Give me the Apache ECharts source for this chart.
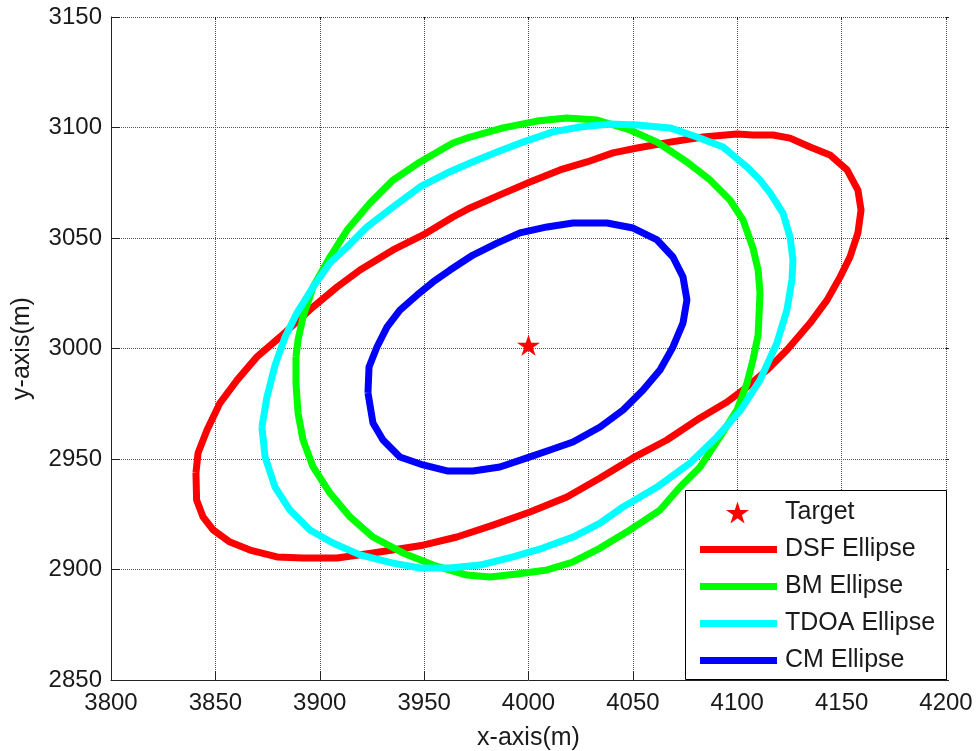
<!DOCTYPE html>
<html>
<head>
<meta charset="utf-8">
<script src="https://cdn.jsdelivr.net/npm/echarts@6/dist/echarts.min.js"></script>
<style>
  html, body { margin: 0; padding: 0; background: #fff; }
  #chart { width: 980px; height: 751px; }
</style>
</head>
<body>
<div id="chart"></div>
<script>
// Axis ticks (metres)
const xTicks = [3800, 3850, 3900, 3950, 4000, 4050, 4100, 4150, 4200];
const yTicks = [2850, 2900, 2950, 3000, 3050, 3100, 3150];

// True emitter position
const target = [[4000, 3001.5]];

// Error ellipses, traced as closed contours of [x, y] points
const dsfEllipse = [
  [3840.7, 2943.7], [3841.0, 2931.4], [3844.1, 2923.8], [3848.9, 2917.9], [3857.0, 2912.4],
  [3866.6, 2908.8], [3879.5, 2905.7], [3892.0, 2905.2], [3908.3, 2905.2], [3925.5, 2907.5],
  [3949.5, 2911.0], [3965.7, 2914.7], [3983.0, 2920.1], [4000.7, 2926.0], [4018.4, 2932.8],
  [4034.3, 2941.4], [4050.1, 2950.5], [4066.3, 2958.6], [4082.2, 2968.6], [4095.1, 2975.8],
  [4104.7, 2982.6], [4114.3, 2990.3], [4123.8, 2999.3], [4134.9, 3011.5], [4143.0, 3021.9],
  [4149.3, 3032.4], [4154.0, 3041.4], [4157.8, 3052.3], [4159.3, 3062.7], [4157.8, 3071.7],
  [4152.6, 3080.8], [4144.4, 3087.6], [4134.9, 3091.2], [4125.3, 3095.2], [4117.1, 3096.6],
  [4107.5, 3096.6], [4099.9, 3097.1], [4083.6, 3095.7], [4067.8, 3093.4], [4052.0, 3090.7],
  [4040.5, 3088.5], [4028.0, 3084.4], [4015.1, 3080.8], [4000.7, 3075.3], [3986.3, 3069.5],
  [3972.0, 3063.6], [3963.8, 3059.5], [3949.5, 3051.4], [3935.1, 3044.6], [3919.3, 3035.5],
  [3908.3, 3027.8], [3896.8, 3018.8], [3881.0, 3005.2], [3869.9, 2996.2], [3860.4, 2985.7],
  [3852.2, 2975.3], [3846.0, 2963.1], [3841.7, 2952.7], [3840.7, 2943.7]
];

const bmEllipse = [
  [3888.6, 2996.2], [3888.6, 2984.4], [3889.6, 2970.8], [3892.0, 2958.6], [3896.8, 2946.4],
  [3904.9, 2934.6], [3914.5, 2923.8], [3925.5, 2914.7], [3939.9, 2907.5], [3954.3, 2902.0],
  [3970.5, 2897.5], [3981.6, 2896.6], [3994.5, 2898.0], [4008.9, 2899.8], [4021.3, 2903.4],
  [4034.3, 2909.7], [4048.6, 2917.9], [4063.0, 2926.9], [4072.6, 2937.3], [4082.2, 2946.4],
  [4091.7, 2960.0], [4099.9, 2972.2], [4104.7, 2984.4], [4107.5, 2994.8], [4110.0, 3006.1],
  [4110.9, 3025.1], [4110.0, 3035.5], [4107.5, 3045.5], [4102.8, 3058.1], [4096.5, 3067.2],
  [4087.0, 3076.2], [4075.9, 3084.4], [4061.6, 3093.4], [4048.6, 3098.9], [4032.8, 3103.4],
  [4018.4, 3104.3], [4004.1, 3102.9], [3987.8, 3099.8], [3972.0, 3095.7], [3963.8, 3093.0],
  [3948.0, 3084.4], [3935.1, 3076.2], [3924.1, 3065.8], [3913.1, 3053.6], [3904.9, 3041.4],
  [3896.8, 3027.8], [3892.0, 3014.3], [3889.6, 3003.8], [3888.6, 2996.2]
];

const tdoaEllipse = [
  [3872.3, 2964.5], [3873.8, 2950.9], [3878.6, 2937.3], [3885.7, 2926.9], [3895.3, 2917.9],
  [3906.3, 2912.0], [3919.3, 2906.6], [3935.1, 2902.9], [3948.0, 2900.7], [3962.4, 2900.7],
  [3976.8, 2902.0], [3992.6, 2905.7], [4006.9, 2909.7], [4021.3, 2914.7], [4034.3, 2921.0],
  [4045.3, 2928.3], [4061.6, 2937.3], [4077.4, 2948.2], [4090.3, 2960.0], [4101.3, 2971.7],
  [4110.9, 2985.7], [4119.0, 3002.5], [4123.8, 3017.4], [4126.2, 3031.0], [4126.7, 3040.0],
  [4125.3, 3050.5], [4121.9, 3061.3], [4115.7, 3070.4], [4110.9, 3076.2], [4104.7, 3082.1],
  [4093.2, 3091.2], [4080.7, 3095.7], [4067.8, 3099.8], [4052.0, 3101.1], [4039.0, 3101.6],
  [4024.7, 3100.2], [4011.7, 3098.0], [3997.4, 3093.4], [3984.9, 3088.9], [3972.0, 3083.9],
  [3961.0, 3079.4], [3948.0, 3073.1], [3935.1, 3064.0], [3922.6, 3055.0], [3913.1, 3045.9],
  [3904.9, 3038.7], [3896.8, 3027.8], [3889.1, 3016.1], [3883.4, 3005.2], [3878.6, 2992.5],
  [3874.7, 2978.0], [3872.3, 2964.5]
];

const cmEllipse = [
  [3923.1, 2979.9], [3923.6, 2991.6], [3927.4, 3000.7], [3932.2, 3009.7], [3938.4, 3017.4],
  [3946.6, 3024.2], [3954.3, 3030.1], [3962.4, 3035.5], [3973.4, 3042.3], [3984.9, 3047.7],
  [3995.9, 3052.3], [4008.9, 3055.0], [4021.3, 3056.8], [4037.6, 3056.8], [4050.1, 3054.5],
  [4061.6, 3049.1], [4069.2, 3041.4], [4074.0, 3032.4], [4075.9, 3022.0], [4074.0, 3011.5],
  [4069.2, 3000.7], [4063.0, 2990.3], [4054.9, 2981.2], [4045.3, 2972.2], [4034.3, 2964.5],
  [4021.3, 2957.7], [4010.3, 2954.1], [3999.3, 2950.5], [3986.3, 2946.4], [3973.4, 2944.6],
  [3961.0, 2944.6], [3949.5, 2947.3], [3938.4, 2950.9], [3930.3, 2958.6], [3925.5, 2966.3],
  [3923.1, 2979.9]
];

const ellipseNames = ['DSF Ellipse', 'BM Ellipse', 'TDOA Ellipse', 'CM Ellipse'];
const ellipseColors = ['#ff0000', '#00ff00', '#00ffff', '#0000ff'];
const ellipseData = [dsfEllipse, bmEllipse, tdoaEllipse, cmEllipse];

// Five-pointed star marker
const starPath = 'path://M50,0 L61.23,34.55 L97.55,34.55 L68.17,55.9 L79.39,90.45 L50,69.1 L20.61,90.45 L31.83,55.9 L2.45,34.55 L38.77,34.55 Z';

const FONT = '"Liberation Sans", Arial, Helvetica, sans-serif';
const INK = '#1a1a1a';
const plainNumber = v => String(v);

const chart = echarts.init(document.getElementById('chart'), null, { renderer: 'canvas' });

const gridLine = { show: true, lineStyle: { color: '#555', width: 1, type: [1, 1] } };

const option = {
  backgroundColor: '#fff',
  animation: false,
  grid: { left: 111, top: 17, width: 835, height: 663, containLabel: false, outerBoundsMode: 'none' },
  xAxis: [
    {
      type: 'value',
      position: 'bottom',
      min: xTicks[0], max: xTicks[xTicks.length - 1], interval: xTicks[1] - xTicks[0],
      name: 'x-axis(m)', nameLocation: 'middle', nameGap: 46,
      nameTextStyle: { fontFamily: FONT, fontSize: 25, color: INK },
      axisLine: { show: true, onZero: false, lineStyle: { color: '#222', width: 1 } },
      axisTick: { show: true, inside: true, length: 9, lineStyle: { color: '#222', width: 1 } },
      axisLabel: { fontFamily: FONT, fontSize: 24, color: INK, margin: 11, formatter: plainNumber },
      splitLine: gridLine
    },
    {
      type: 'value',
      position: 'top',
      min: xTicks[0], max: xTicks[xTicks.length - 1], interval: xTicks[1] - xTicks[0],
      axisLine: { show: false },
      axisTick: { show: true, inside: true, length: 3, lineStyle: { color: '#222', width: 1 } },
      axisLabel: { show: false },
      splitLine: { show: false }
    }
  ],
  yAxis: [
    {
      type: 'value',
      position: 'left',
      min: yTicks[0], max: yTicks[yTicks.length - 1], interval: yTicks[1] - yTicks[0],
      name: 'y-axis(m)', nameLocation: 'middle', nameGap: 76, nameRotate: 90,
      nameTextStyle: { fontFamily: FONT, fontSize: 25, color: INK },
      axisLine: { show: true, onZero: false, lineStyle: { color: '#222', width: 1 } },
      axisTick: { show: true, inside: true, length: 9, lineStyle: { color: '#222', width: 1 } },
      axisLabel: { fontFamily: FONT, fontSize: 24, color: INK, margin: 9, formatter: plainNumber },
      splitLine: gridLine
    },
    {
      type: 'value',
      position: 'right',
      min: yTicks[0], max: yTicks[yTicks.length - 1], interval: yTicks[1] - yTicks[0],
      axisLine: { show: false },
      axisTick: { show: true, inside: false, length: 3, lineStyle: { color: '#222', width: 1 } },
      axisLabel: { show: false },
      splitLine: { show: false }
    }
  ],
  legend: [
    {
      data: [{ name: 'Target', icon: starPath }],
      orient: 'vertical',
      left: 726, top: 500, padding: 0,
      itemWidth: 23, itemHeight: 22,
      selectedMode: false,
      itemStyle: { borderWidth: 0 },
      textStyle: { fontFamily: FONT, fontSize: 25, color: INK, padding: [2, 0, 0, 31] },
      z: 5
    },
    {
      data: ellipseNames.map(n => ({ name: n, icon: 'rect' })),
      orient: 'vertical',
      left: 700, top: 537, padding: 0,
      itemWidth: 77, itemHeight: 7, itemGap: 12,
      selectedMode: false,
      itemStyle: { borderWidth: 0 },
      textStyle: { fontFamily: FONT, fontSize: 25, color: INK, padding: [0, 0, 0, 3] },
      z: 5
    }
  ],
  graphic: {
    elements: [{
      type: 'rect',
      z: 3,
      shape: { x: 685.5, y: 490.5, width: 261, height: 189 },
      style: { fill: '#fff', stroke: '#000', lineWidth: 1 }
    }]
  },
  series: [
    {
      name: 'Target',
      type: 'scatter',
      data: target,
      symbol: starPath,
      symbolSize: [23, 21],
      itemStyle: { color: '#ff0000', opacity: 1 },
      z: 2
    }
  ].concat(ellipseData.map((pts, i) => ({
    name: ellipseNames[i],
    type: 'line',
    data: pts,
    showSymbol: false,
    symbol: 'none',
    smooth: false,
    lineStyle: { color: ellipseColors[i], width: 7, join: 'round' },
    itemStyle: { color: ellipseColors[i] },
    z: 2
  })))
};

chart.setOption(option);
</script>
</body>
</html>
